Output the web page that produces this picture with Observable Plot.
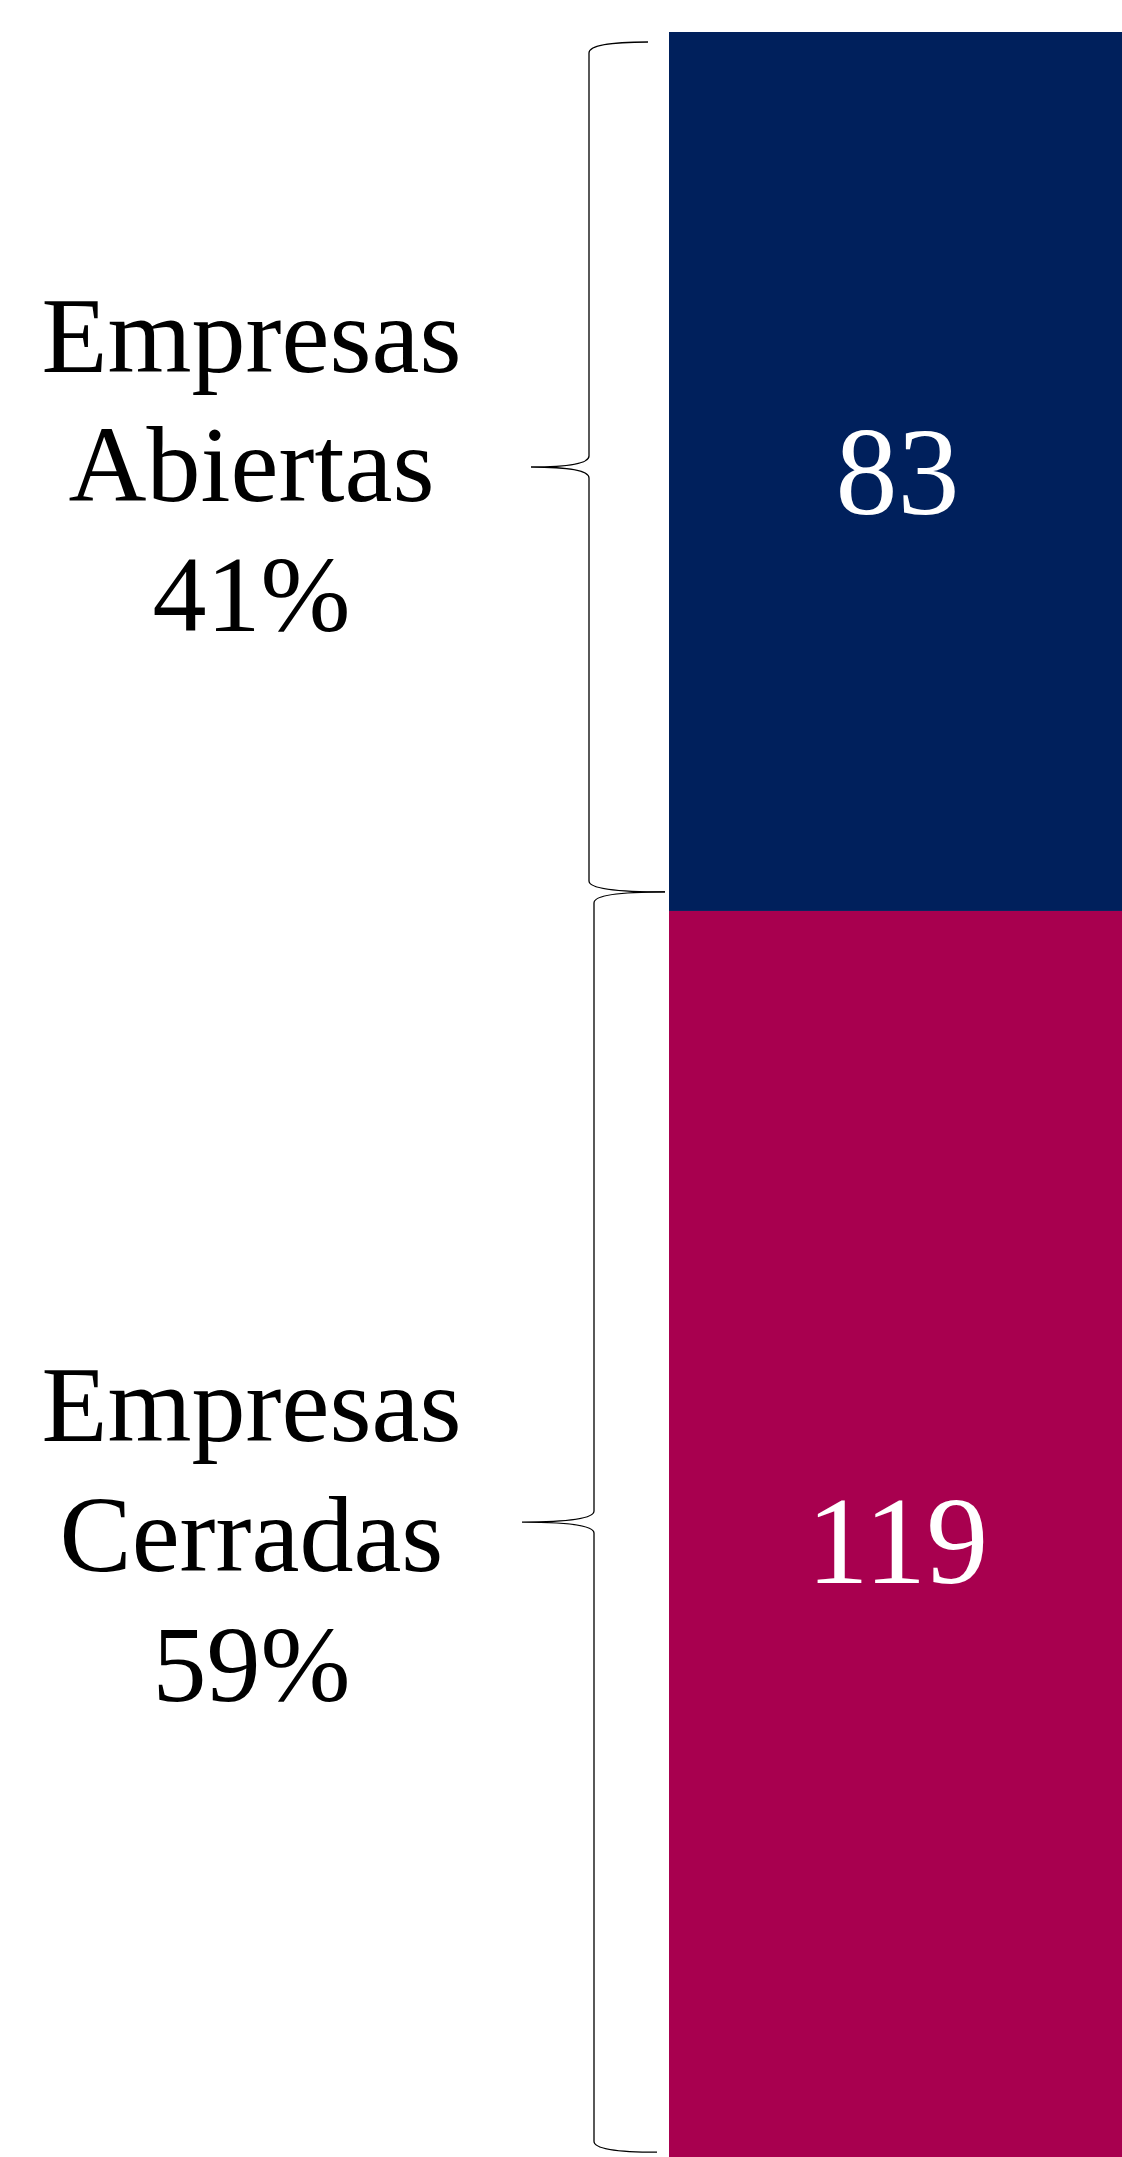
<!DOCTYPE html>
<html>
<head>
<meta charset="utf-8">
<script src="https://cdn.jsdelivr.net/npm/d3@7"></script>
<script src="https://cdn.jsdelivr.net/npm/@observablehq/plot@0.6"></script>
<style>
  html, body { margin: 0; padding: 0; background: #ffffff; }
  #chart svg { display: block; }
</style>
</head>
<body>
<div id="chart"></div>
<script>
// Data
const categorias = ["Empresas Abiertas", "Empresas Cerradas"];
const valores = [83, 119];
const porcentajes = ["41%", "59%"];
const nombres = [["Empresas", "Abiertas"], ["Empresas", "Cerradas"]];
const colores = ["#00205c", "#a8004f"];

// Build stacked rows
let acc = 0;
const filas = categorias.map((c, i) => {
  const start = acc;
  acc += valores[i];
  return {
    categoria: c,
    valor: valores[i],
    start,
    end: acc,
    mid: (start + acc) / 2,
    etiqueta: nombres[i].join("\n") + "\n" + porcentajes[i]
  };
});
const total = acc;

// Brace styling (layout)
const braceGeom = [
  {xTip: 531, xV: 589, xTop: 648, xBot: 665},
  {xTip: 522, xV: 594, xTop: 665, xBot: 657}
];

function braceMark(index, scales, values, dimensions) {
  const g = d3.create("svg:g")
    .attr("fill", "none")
    .attr("stroke", "#000")
    .attr("stroke-width", 1.3);
  filas.forEach((d, i) => {
    const b = braceGeom[i];
    const y0 = Math.max(scales.y(d.start) - 19, 42);
    const y1 = scales.y(d.end) - 19;
    const ym = (y0 + y1) / 2;
    const r = 11;
    const p = d3.path();
    p.moveTo(b.xTop, y0);
    p.quadraticCurveTo(b.xV, y0, b.xV, y0 + r);
    p.lineTo(b.xV, ym - r);
    p.quadraticCurveTo(b.xV, ym, b.xTip, ym);
    p.quadraticCurveTo(b.xV, ym, b.xV, ym + r);
    p.lineTo(b.xV, y1 - r);
    p.quadraticCurveTo(b.xV, y1, b.xBot, y1);
    g.append("path").attr("d", p.toString());
  });
  return g.node();
}

const chart = Plot.plot({
  width: 1122,
  height: 2157,
  margin: 0,
  style: {
    fontFamily: "'Liberation Serif', 'Times New Roman', serif",
    background: "#ffffff",
    overflow: "hidden"
  },
  x: {type: "band", domain: ["Total"], range: [669, 1125], padding: 0, axis: null},
  y: {domain: [0, total], range: [32, 32 + total * 10.59], axis: null},
  color: {domain: categorias, range: colores},
  marks: [
    Plot.barY(filas, {x: () => "Total", y1: "start", y2: "end", fill: "categoria"}),
    Plot.text(filas, {
      x: () => "Total",
      y: "mid",
      text: d => String(d.valor),
      fill: "white",
      fontSize: 124,
      dy: 2
    }),
    Plot.text(filas, {
      frameAnchor: "left",
      dx: 251,
      y: "mid",
      dy: -12,
      text: "etiqueta",
      fill: "black",
      fontSize: 108,
      lineHeight: 1.2,
      textAnchor: "middle",
      lineAnchor: "middle"
    }),
    braceMark
  ]
});
document.getElementById("chart").appendChild(chart);
</script>
</body>
</html>
